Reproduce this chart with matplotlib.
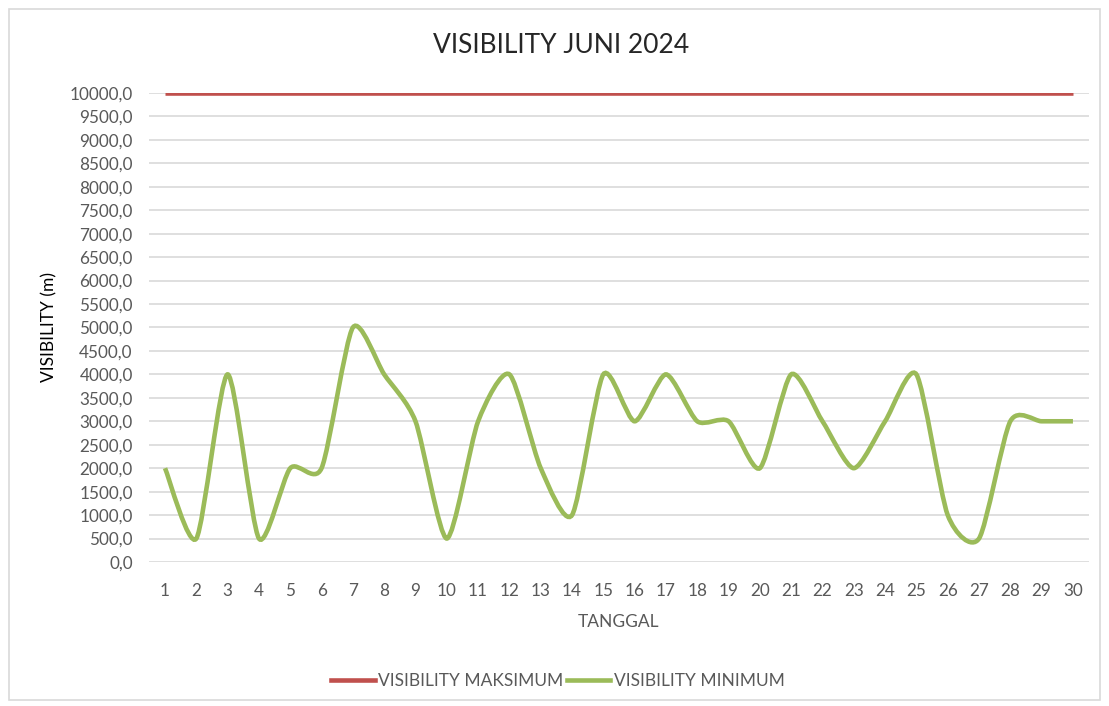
import numpy as np
import matplotlib
matplotlib.use("Agg")
import matplotlib.pyplot as plt
from matplotlib.path import Path
from matplotlib.patches import PathPatch, Rectangle
from matplotlib.lines import Line2D
from matplotlib.ticker import FuncFormatter, MultipleLocator

plt.rcParams['font.family'] = ['Lato', 'DejaVu Sans']

# ---------------- data ----------------
tanggal = list(range(1, 31))
vis_maks = [10000] * 30
vis_min = [2000, 500, 4000, 500, 2000, 2000, 5000, 4000, 3000, 500,
           3000, 4000, 2000, 1000, 4000, 3000, 4000, 3000, 3000, 2000,
           4000, 3000, 2000, 3000, 4000, 1000, 500, 3000, 3000, 3000]

RED = '#C0504D'
GREEN = '#9BBB59'
TXT = '#595959'


def smooth_path(x, y, k=0.12):
    # Excel-like smoothed line: cubic Bezier with Catmull-Rom style control points
    x, y = np.asarray(x, float), np.asarray(y, float)
    n = len(x)
    verts, codes = [(x[0], y[0])], [Path.MOVETO]
    for i in range(n - 1):
        x0, y0 = (x[i - 1], y[i - 1]) if i > 0 else (x[i], y[i])
        x3, y3 = (x[i + 2], y[i + 2]) if i + 2 < n else (x[i + 1], y[i + 1])
        c1 = (x[i] + (x[i + 1] - x0) * k, y[i] + (y[i + 1] - y0) * k)
        c2 = (x[i + 1] - (x3 - x[i]) * k, y[i + 1] - (y3 - y[i]) * k)
        verts += [c1, c2, (x[i + 1], y[i + 1])]
        codes += [Path.CURVE4] * 3
    return Path(verts, codes)


fig = plt.figure(figsize=(11.09, 7.06), dpi=100)
fig.patches.append(Rectangle((0.008, 0.008), 0.984, 0.979, transform=fig.transFigure,
                             fill=False, edgecolor='#D9D9D9', linewidth=1.2))
ax = fig.add_axes([0.1347, 0.2040, 0.8469, 0.6643])

ax.plot(tanggal, vis_maks, color=RED, linewidth=3.3, solid_capstyle='butt', zorder=3)
ax.add_patch(PathPatch(smooth_path(tanggal, vis_min), facecolor='none', edgecolor=GREEN,
                       linewidth=3.3, capstyle='butt', zorder=3))

ax.set_xlim(0.5, 30.5)
ax.set_ylim(0, 10000)
ax.yaxis.set_major_locator(MultipleLocator(500))
ax.yaxis.set_major_formatter(FuncFormatter(lambda v, p: f"{v:.1f}".replace('.', ',')))
ax.set_xticks(tanggal)
ax.grid(axis='y', color='#D9D9D9', linewidth=1.2)
ax.set_axisbelow(True)
for s in ax.spines.values():
    s.set_visible(False)
ax.tick_params(length=0, colors=TXT, labelsize=12.3)
ax.tick_params(axis='y', pad=12)
ax.tick_params(axis='x', pad=15)

fig.text(0.506, 0.935, 'VISIBILITY JUNI 2024', fontsize=19, color='#262626',
         ha='center', va='center')
ax.set_xlabel('TANGGAL', fontsize=12.5, color=TXT, labelpad=11)
ax.set_ylabel('VISIBILITY (m)', fontsize=12.5, color='black', labelpad=9)

handles = [Line2D([], [], color=RED, linewidth=3.3),
           Line2D([], [], color=GREEN, linewidth=3.3)]
fig.legend(handles, ['VISIBILITY MAKSIMUM', 'VISIBILITY MINIMUM'], loc='center',
           bbox_to_anchor=(0.503, 0.035), ncol=2, frameon=False, fontsize=12.5,
           labelcolor=TXT, handlelength=2.5, handletextpad=0.2, columnspacing=0.2)

plt.savefig('out.png', dpi=100)
